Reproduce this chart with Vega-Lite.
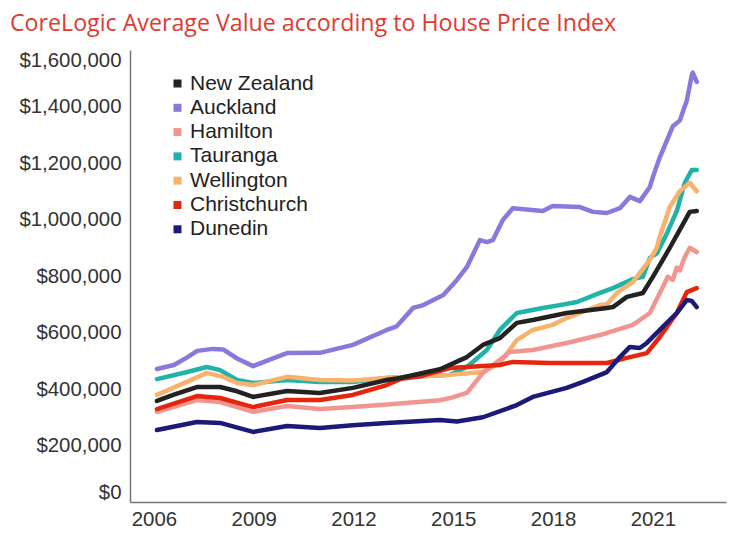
{
  "$schema": "https://vega.github.io/schema/vega-lite/v6.json",
  "autosize": {"type": "none"},
  "padding": {"left": 130, "top": 50, "right": 23, "bottom": 38},
  "width": 596,
  "height": 452,
  "background": "white",
  "title": {
    "text": "CoreLogic Average Value according to House Price Index",
    "anchor": "start",
    "frame": "group",
    "dx": -120,
    "offset": 14,
    "font": "Open Sans",
    "fontSize": 23.2,
    "fontWeight": "normal",
    "color": "#e03a2f"
  },
  "config": {
    "view": {"stroke": null},
    "axis": {"labelFont": "Liberation Sans", "labelFontSize": 20.4, "labelColor": "#333333", "grid": false, "ticks": false, "domainColor": "#777777", "domainWidth": 1.5, "title": null}
  },
  "data": {
    "values": [
      {"r": "Auckland", "t": 2006.09, "v": 471000},
      {"r": "Auckland", "t": 2006.6, "v": 485000},
      {"r": "Auckland", "t": 2007.0, "v": 512000},
      {"r": "Auckland", "t": 2007.3, "v": 535000},
      {"r": "Auckland", "t": 2007.77, "v": 542000},
      {"r": "Auckland", "t": 2008.08, "v": 540000},
      {"r": "Auckland", "t": 2008.5, "v": 508000},
      {"r": "Auckland", "t": 2008.98, "v": 481000},
      {"r": "Auckland", "t": 2009.5, "v": 505000},
      {"r": "Auckland", "t": 2010.0, "v": 527000},
      {"r": "Auckland", "t": 2010.99, "v": 528000},
      {"r": "Auckland", "t": 2011.98, "v": 556000},
      {"r": "Auckland", "t": 2013.0, "v": 609000},
      {"r": "Auckland", "t": 2013.3, "v": 622000},
      {"r": "Auckland", "t": 2013.79, "v": 687000},
      {"r": "Auckland", "t": 2014.1, "v": 697000},
      {"r": "Auckland", "t": 2014.4, "v": 715000},
      {"r": "Auckland", "t": 2014.7, "v": 733000},
      {"r": "Auckland", "t": 2015.11, "v": 786000},
      {"r": "Auckland", "t": 2015.41, "v": 832000},
      {"r": "Auckland", "t": 2015.8, "v": 927000},
      {"r": "Auckland", "t": 2016.01, "v": 920000},
      {"r": "Auckland", "t": 2016.19, "v": 927000},
      {"r": "Auckland", "t": 2016.49, "v": 998000},
      {"r": "Auckland", "t": 2016.79, "v": 1040000},
      {"r": "Auckland", "t": 2017.69, "v": 1030000},
      {"r": "Auckland", "t": 2017.99, "v": 1048000},
      {"r": "Auckland", "t": 2018.81, "v": 1044000},
      {"r": "Auckland", "t": 2019.2, "v": 1027000},
      {"r": "Auckland", "t": 2019.62, "v": 1023000},
      {"r": "Auckland", "t": 2020.01, "v": 1040000},
      {"r": "Auckland", "t": 2020.31, "v": 1080000},
      {"r": "Auckland", "t": 2020.61, "v": 1065000},
      {"r": "Auckland", "t": 2020.91, "v": 1115000},
      {"r": "Auckland", "t": 2021.0, "v": 1150000},
      {"r": "Auckland", "t": 2021.21, "v": 1220000},
      {"r": "Auckland", "t": 2021.6, "v": 1330000},
      {"r": "Auckland", "t": 2021.81, "v": 1350000},
      {"r": "Auckland", "t": 2022.02, "v": 1420000},
      {"r": "Auckland", "t": 2022.17, "v": 1510000},
      {"r": "Auckland", "t": 2022.2, "v": 1520000},
      {"r": "Auckland", "t": 2022.32, "v": 1487000},

      {"r": "Tauranga", "t": 2006.09, "v": 435000},
      {"r": "Tauranga", "t": 2007.0, "v": 460000},
      {"r": "Tauranga", "t": 2007.59, "v": 478000},
      {"r": "Tauranga", "t": 2007.99, "v": 467000},
      {"r": "Tauranga", "t": 2008.5, "v": 432000},
      {"r": "Tauranga", "t": 2008.98, "v": 421000},
      {"r": "Tauranga", "t": 2010.0, "v": 432000},
      {"r": "Tauranga", "t": 2010.99, "v": 425000},
      {"r": "Tauranga", "t": 2011.98, "v": 425000},
      {"r": "Tauranga", "t": 2013.0, "v": 439000},
      {"r": "Tauranga", "t": 2014.9, "v": 450000},
      {"r": "Tauranga", "t": 2015.41, "v": 478000},
      {"r": "Tauranga", "t": 2016.01, "v": 538000},
      {"r": "Tauranga", "t": 2016.4, "v": 609000},
      {"r": "Tauranga", "t": 2016.91, "v": 669000},
      {"r": "Tauranga", "t": 2017.69, "v": 687000},
      {"r": "Tauranga", "t": 2018.2, "v": 697000},
      {"r": "Tauranga", "t": 2018.72, "v": 708000},
      {"r": "Tauranga", "t": 2019.41, "v": 740000},
      {"r": "Tauranga", "t": 2019.8, "v": 757000},
      {"r": "Tauranga", "t": 2020.4, "v": 789000},
      {"r": "Tauranga", "t": 2020.7, "v": 797000},
      {"r": "Tauranga", "t": 2020.91, "v": 864000},
      {"r": "Tauranga", "t": 2021.12, "v": 880000},
      {"r": "Tauranga", "t": 2021.42, "v": 950000},
      {"r": "Tauranga", "t": 2021.72, "v": 1030000},
      {"r": "Tauranga", "t": 2021.96, "v": 1130000},
      {"r": "Tauranga", "t": 2022.17, "v": 1175000},
      {"r": "Tauranga", "t": 2022.32, "v": 1175000},

      {"r": "Wellington", "t": 2006.09, "v": 379000},
      {"r": "Wellington", "t": 2006.99, "v": 425000},
      {"r": "Wellington", "t": 2007.59, "v": 457000},
      {"r": "Wellington", "t": 2008.08, "v": 443000},
      {"r": "Wellington", "t": 2008.5, "v": 421000},
      {"r": "Wellington", "t": 2008.98, "v": 414000},
      {"r": "Wellington", "t": 2010.0, "v": 443000},
      {"r": "Wellington", "t": 2010.99, "v": 432000},
      {"r": "Wellington", "t": 2011.98, "v": 430000},
      {"r": "Wellington", "t": 2013.0, "v": 439000},
      {"r": "Wellington", "t": 2014.9, "v": 450000},
      {"r": "Wellington", "t": 2015.89, "v": 460000},
      {"r": "Wellington", "t": 2016.4, "v": 492000},
      {"r": "Wellington", "t": 2016.91, "v": 573000},
      {"r": "Wellington", "t": 2017.39, "v": 609000},
      {"r": "Wellington", "t": 2017.99, "v": 627000},
      {"r": "Wellington", "t": 2018.41, "v": 651000},
      {"r": "Wellington", "t": 2018.81, "v": 669000},
      {"r": "Wellington", "t": 2019.41, "v": 697000},
      {"r": "Wellington", "t": 2019.62, "v": 700000},
      {"r": "Wellington", "t": 2019.92, "v": 740000},
      {"r": "Wellington", "t": 2020.4, "v": 779000},
      {"r": "Wellington", "t": 2020.91, "v": 857000},
      {"r": "Wellington", "t": 2021.12, "v": 900000},
      {"r": "Wellington", "t": 2021.21, "v": 940000},
      {"r": "Wellington", "t": 2021.51, "v": 1044000},
      {"r": "Wellington", "t": 2021.81, "v": 1100000},
      {"r": "Wellington", "t": 2022.11, "v": 1130000},
      {"r": "Wellington", "t": 2022.32, "v": 1100000},

      {"r": "Hamilton", "t": 2006.09, "v": 319000},
      {"r": "Hamilton", "t": 2007.29, "v": 361000},
      {"r": "Hamilton", "t": 2007.99, "v": 354000},
      {"r": "Hamilton", "t": 2008.98, "v": 319000},
      {"r": "Hamilton", "t": 2010.0, "v": 340000},
      {"r": "Hamilton", "t": 2010.99, "v": 329000},
      {"r": "Hamilton", "t": 2011.98, "v": 336000},
      {"r": "Hamilton", "t": 2013.0, "v": 345000},
      {"r": "Hamilton", "t": 2014.6, "v": 360000},
      {"r": "Hamilton", "t": 2014.9, "v": 368000},
      {"r": "Hamilton", "t": 2015.41, "v": 386000},
      {"r": "Hamilton", "t": 2015.89, "v": 457000},
      {"r": "Hamilton", "t": 2016.4, "v": 503000},
      {"r": "Hamilton", "t": 2016.7, "v": 531000},
      {"r": "Hamilton", "t": 2017.39, "v": 538000},
      {"r": "Hamilton", "t": 2018.41, "v": 563000},
      {"r": "Hamilton", "t": 2019.41, "v": 591000},
      {"r": "Hamilton", "t": 2020.4, "v": 627000},
      {"r": "Hamilton", "t": 2020.91, "v": 669000},
      {"r": "Hamilton", "t": 2021.3, "v": 761000},
      {"r": "Hamilton", "t": 2021.45, "v": 797000},
      {"r": "Hamilton", "t": 2021.6, "v": 786000},
      {"r": "Hamilton", "t": 2021.72, "v": 830000},
      {"r": "Hamilton", "t": 2021.81, "v": 820000},
      {"r": "Hamilton", "t": 2021.96, "v": 867000},
      {"r": "Hamilton", "t": 2022.11, "v": 900000},
      {"r": "Hamilton", "t": 2022.32, "v": 885000},

      {"r": "Christchurch", "t": 2006.09, "v": 329000},
      {"r": "Christchurch", "t": 2007.29, "v": 375000},
      {"r": "Christchurch", "t": 2007.99, "v": 368000},
      {"r": "Christchurch", "t": 2008.98, "v": 336000},
      {"r": "Christchurch", "t": 2010.0, "v": 361000},
      {"r": "Christchurch", "t": 2010.99, "v": 361000},
      {"r": "Christchurch", "t": 2011.98, "v": 379000},
      {"r": "Christchurch", "t": 2013.0, "v": 414000},
      {"r": "Christchurch", "t": 2013.4, "v": 435000},
      {"r": "Christchurch", "t": 2014.0, "v": 445000},
      {"r": "Christchurch", "t": 2014.9, "v": 474000},
      {"r": "Christchurch", "t": 2016.4, "v": 485000},
      {"r": "Christchurch", "t": 2016.79, "v": 496000},
      {"r": "Christchurch", "t": 2017.9, "v": 492000},
      {"r": "Christchurch", "t": 2019.62, "v": 492000},
      {"r": "Christchurch", "t": 2020.22, "v": 510000},
      {"r": "Christchurch", "t": 2020.82, "v": 527000},
      {"r": "Christchurch", "t": 2021.21, "v": 584000},
      {"r": "Christchurch", "t": 2021.72, "v": 669000},
      {"r": "Christchurch", "t": 2022.02, "v": 743000},
      {"r": "Christchurch", "t": 2022.32, "v": 757000},

      {"r": "Dunedin", "t": 2006.09, "v": 255000},
      {"r": "Dunedin", "t": 2007.29, "v": 283000},
      {"r": "Dunedin", "t": 2007.99, "v": 280000},
      {"r": "Dunedin", "t": 2008.98, "v": 248000},
      {"r": "Dunedin", "t": 2010.0, "v": 269000},
      {"r": "Dunedin", "t": 2010.99, "v": 262000},
      {"r": "Dunedin", "t": 2011.98, "v": 272000},
      {"r": "Dunedin", "t": 2013.0, "v": 280000},
      {"r": "Dunedin", "t": 2014.6, "v": 290000},
      {"r": "Dunedin", "t": 2015.11, "v": 285000},
      {"r": "Dunedin", "t": 2015.89, "v": 300000},
      {"r": "Dunedin", "t": 2016.91, "v": 343000},
      {"r": "Dunedin", "t": 2017.39, "v": 372000},
      {"r": "Dunedin", "t": 2018.41, "v": 404000},
      {"r": "Dunedin", "t": 2018.9, "v": 425000},
      {"r": "Dunedin", "t": 2019.62, "v": 460000},
      {"r": "Dunedin", "t": 2020.01, "v": 513000},
      {"r": "Dunedin", "t": 2020.31, "v": 549000},
      {"r": "Dunedin", "t": 2020.61, "v": 545000},
      {"r": "Dunedin", "t": 2020.82, "v": 563000},
      {"r": "Dunedin", "t": 2021.21, "v": 609000},
      {"r": "Dunedin", "t": 2021.72, "v": 669000},
      {"r": "Dunedin", "t": 2022.02, "v": 715000},
      {"r": "Dunedin", "t": 2022.17, "v": 712000},
      {"r": "Dunedin", "t": 2022.32, "v": 690000},

      {"r": "New Zealand", "t": 2006.09, "v": 358000},
      {"r": "New Zealand", "t": 2006.6, "v": 380000},
      {"r": "New Zealand", "t": 2007.29, "v": 407000},
      {"r": "New Zealand", "t": 2007.99, "v": 407000},
      {"r": "New Zealand", "t": 2008.5, "v": 392000},
      {"r": "New Zealand", "t": 2008.98, "v": 372000},
      {"r": "New Zealand", "t": 2010.0, "v": 393000},
      {"r": "New Zealand", "t": 2010.99, "v": 386000},
      {"r": "New Zealand", "t": 2011.98, "v": 404000},
      {"r": "New Zealand", "t": 2013.0, "v": 432000},
      {"r": "New Zealand", "t": 2013.4, "v": 439000},
      {"r": "New Zealand", "t": 2014.6, "v": 470000},
      {"r": "New Zealand", "t": 2015.41, "v": 513000},
      {"r": "New Zealand", "t": 2015.89, "v": 556000},
      {"r": "New Zealand", "t": 2016.4, "v": 580000},
      {"r": "New Zealand", "t": 2016.91, "v": 634000},
      {"r": "New Zealand", "t": 2017.39, "v": 644000},
      {"r": "New Zealand", "t": 2018.41, "v": 669000},
      {"r": "New Zealand", "t": 2019.62, "v": 687000},
      {"r": "New Zealand", "t": 2019.8, "v": 690000},
      {"r": "New Zealand", "t": 2020.22, "v": 726000},
      {"r": "New Zealand", "t": 2020.7, "v": 740000},
      {"r": "New Zealand", "t": 2021.0, "v": 797000},
      {"r": "New Zealand", "t": 2021.3, "v": 857000},
      {"r": "New Zealand", "t": 2021.51, "v": 900000},
      {"r": "New Zealand", "t": 2021.81, "v": 963000},
      {"r": "New Zealand", "t": 2022.11, "v": 1027000},
      {"r": "New Zealand", "t": 2022.32, "v": 1030000}
    ]
  },
  "mark": {"type": "line", "strokeWidth": 4.5, "strokeJoin": "round", "strokeCap": "round"},
  "encoding": {
    "x": {
      "field": "t",
      "type": "quantitative",
      "scale": {"domain": [2005.28, 2023.2], "nice": false, "zero": false},
      "axis": {"values": [2006, 2009, 2012, 2015, 2018, 2021], "format": "d", "labelPadding": 7, "labelFlush": false}
    },
    "y": {
      "field": "v",
      "type": "quantitative",
      "scale": {"domain": [0, 1600000], "nice": false},
      "axis": {"values": [0, 200000, 400000, 600000, 800000, 1000000, 1200000, 1400000, 1600000], "format": "$,.0f", "labelPadding": 9, "labelFlush": true}
    },
    "color": {
      "field": "r",
      "type": "nominal",
      "scale": {
        "domain": ["New Zealand", "Auckland", "Hamilton", "Tauranga", "Wellington", "Christchurch", "Dunedin"],
        "range": ["#222222", "#8a78dc", "#f29590", "#1fb3aa", "#f8b26c", "#e5260c", "#1b1a78"]
      },
      "legend": {
        "orient": "none",
        "legendX": 37,
        "legendY": 23,
        "title": null,
        "symbolType": "square",
        "symbolSize": 64,
        "symbolStrokeWidth": 0,
        "labelFont": "Liberation Sans",
        "labelFontSize": 21,
        "labelColor": "#222222",
        "labelOffset": 2,
        "rowPadding": 2.3,
        "encode": {"symbols": {"update": {"fill": {"scale": "color", "field": "value"}, "fillOpacity": {"value": 1}}}}
      }
    },
    "order": {"field": "t", "type": "quantitative"}
  }
}
